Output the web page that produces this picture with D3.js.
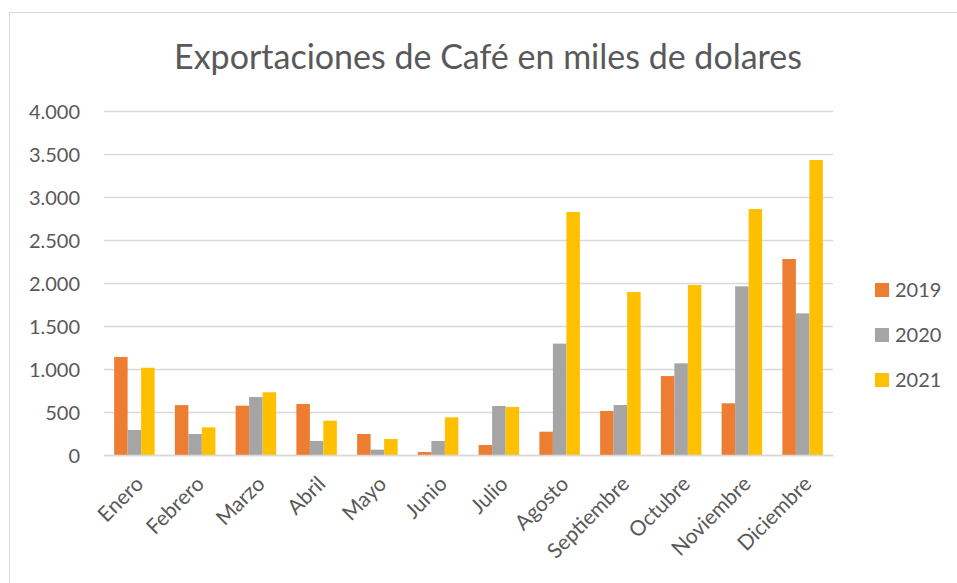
<!DOCTYPE html>
<html>
<head>
<meta charset="utf-8">
<script src="https://cdn.jsdelivr.net/npm/d3@7"></script>
<style>
  body { margin: 0; background: #fff; }
  text { font-family: Lato, "Open Sans", sans-serif; fill: #595959; }
</style>
</head>
<body>
<div id="chart"></div>
<script>
// datos (miles de dolares)
var meses = ["Enero", "Febrero", "Marzo", "Abril", "Mayo", "Junio", "Julio",
  "Agosto", "Septiembre", "Octubre", "Noviembre", "Diciembre"];
var anios = ["2019", "2020", "2021"];
var v2019 = [1140, 580, 573, 593, 244, 35, 116, 271, 512, 918, 601, 2279];
var v2020 = [291, 244, 674, 163, 62, 163, 570, 1295, 581, 1066, 1961, 1647];
var v2021 = [1015, 322, 729, 399, 186, 438, 558, 2826, 1895, 1977, 2860, 3430];
var yTicks = [0, 500, 1000, 1500, 2000, 2500, 3000, 3500, 4000];
var colores = ["#ED7D31", "#A5A5A5", "#FFC000"];

var series = [v2019, v2020, v2021];
var W = 957, H = 583;
var plot = {left: 104, right: 833, top: 111, bottom: 455};

var svg = d3.select("#chart").append("svg")
  .attr("width", W).attr("height", H);

// marco del grafico
svg.append("rect")
  .attr("x", 9.5).attr("y", 12.5)
  .attr("width", 960).attr("height", 600)
  .attr("fill", "none").attr("stroke", "#D9D9D9");

svg.append("text")
  .attr("x", 488).attr("y", 69)
  .attr("text-anchor", "middle")
  .attr("font-size", 34)
  .text("Exportaciones de Café en miles de dolares");

var x = d3.scaleBand().domain(meses)
  .range([plot.left, plot.right]).paddingInner(1.5 / 4.5).paddingOuter(0.75 / 4.5);
var xs = d3.scaleBand().domain(anios).range([0, x.bandwidth()]);
var y = d3.scaleLinear().domain([0, 4000]).range([plot.bottom, plot.top]);

// cuadricula
svg.append("g").selectAll("line").data(yTicks).join("line")
  .attr("x1", plot.left).attr("x2", plot.right)
  .attr("y1", d => Math.round(y(d)) + 0.5).attr("y2", d => Math.round(y(d)) + 0.5)
  .attr("stroke", "#D9D9D9").attr("stroke-width", 1.3);

var fmt = d3.formatLocale({decimal: ",", thousands: ".", grouping: [3], currency: ["", ""]}).format(",d");

var yAxis = svg.append("g")
  .attr("transform", "translate(" + (plot.left - 24) + ",0)")
  .call(d3.axisLeft(y).tickValues(yTicks).tickFormat(fmt).tickSize(0).tickPadding(0));
yAxis.select(".domain").remove();
yAxis.selectAll("text").attr("font-size", 20).attr("fill", "#595959").attr("dy", "0.36em")
  .style("font-family", "Lato, sans-serif");

// barras
var grupos = svg.append("g").selectAll("g").data(meses).join("g")
  .attr("transform", d => "translate(" + x(d) + ",0)");
grupos.selectAll("rect")
  .data((m, i) => anios.map((a, j) => ({anio: a, valor: series[j][i], color: colores[j]})))
  .join("rect")
  .attr("x", d => xs(d.anio))
  .attr("width", xs.bandwidth())
  .attr("y", d => y(d.valor))
  .attr("height", d => y(0) - y(d.valor))
  .attr("fill", d => d.color);

// eje x
var xAxis = svg.append("g")
  .attr("transform", "translate(0," + plot.bottom + ")")
  .call(d3.axisBottom(x).tickSize(0).tickPadding(0));
xAxis.select(".domain").attr("stroke", "#D9D9D9").attr("stroke-width", 1.3);
xAxis.selectAll("text")
  .attr("font-size", 21).attr("fill", "#595959")
  .style("font-family", "Lato, sans-serif")
  .attr("text-anchor", "end")
  .attr("transform", "translate(5,25) rotate(-45)")
  .attr("dy", "0.35em").attr("y", 0);

// leyenda
var ley = svg.append("g").selectAll("g").data(anios).join("g")
  .attr("transform", (d, i) => "translate(875," + (290 + i * 45) + ")");
ley.append("rect").attr("x", 0).attr("y", -7).attr("width", 14).attr("height", 14)
  .attr("fill", (d, i) => colores[i]);
ley.append("text").attr("x", 20).attr("dy", "0.36em").attr("font-size", 20).text(d => d);
</script>
</body>
</html>
